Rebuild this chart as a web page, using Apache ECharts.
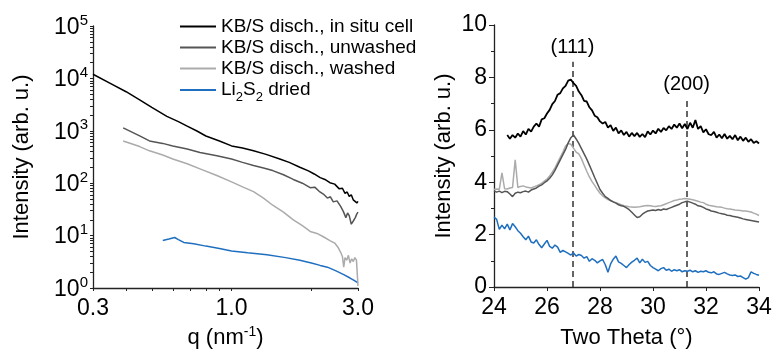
<!DOCTYPE html>
<html>
<head>
<meta charset="utf-8">
<script src="https://cdn.jsdelivr.net/npm/echarts@6/dist/echarts.min.js"></script>
<style>
  html, body { margin: 0; padding: 0; background: #fff; }
  #chart { width: 775px; height: 354px; }
</style>
</head>
<body>
<div id="chart"></div>
<script>
// ---- SAXS (left panel) ----
const seriesNames = ["KB/S disch., in situ cell", "KB/S disch., unwashed", "KB/S disch., washed", "Li2S2 dried"];

const qInSitu = [0.30, 0.35, 0.40, 0.45, 0.50, 0.57, 0.63, 0.68, 0.74, 0.80, 0.90, 1.00, 1.10, 1.21, 1.35, 1.52, 1.65, 1.81, 1.95, 2.05, 2.16, 2.25, 2.35, 2.45, 2.55, 2.62, 2.68, 2.73, 2.78, 2.83, 2.88, 2.93, 2.97, 3.00];
const iInSitu = [12000, 7950, 5570, 3900, 2800, 1890, 1500, 1225, 990, 795, 640, 515, 470, 415, 355, 290, 250, 202, 172, 150, 128, 118, 102, 96, 78, 80, 64, 68, 56, 60, 48, 52, 42, 45];

const qUnwashed = [0.39, 0.45, 0.49, 0.55, 0.60, 0.68, 0.76, 0.88, 1.00, 1.10, 1.21, 1.32, 1.43, 1.57, 1.71, 1.85, 1.98, 2.06, 2.14, 2.22, 2.30, 2.36, 2.42, 2.50, 2.58, 2.64, 2.70, 2.74, 2.78, 2.83, 2.88, 2.93, 2.97, 3.00];
const iUnwashed = [1140, 800, 640, 575, 515, 450, 387, 335, 290, 250, 217, 195, 174, 145, 118, 100, 82, 84, 70, 62, 52, 55, 44, 46, 36, 29, 22, 27, 24, 16.5, 19, 22, 26, 28];

const qWashed = [0.39, 0.45, 0.49, 0.55, 0.60, 0.68, 0.76, 0.88, 1.00, 1.10, 1.21, 1.32, 1.43, 1.57, 1.71, 1.85, 1.98, 2.10, 2.22, 2.35, 2.45, 2.52, 2.58, 2.62, 2.65, 2.68, 2.72, 2.76, 2.80, 2.84, 2.88, 2.92, 2.96, 2.99, 3.00];
const iWashed = [640, 500, 415, 345, 290, 235, 188, 140, 106, 85, 69, 52, 38, 28, 20, 15.5, 12, 11, 9.5, 8, 7.2, 6.0, 4.8, 4.0, 2.5, 3.8, 3.4, 4.2, 3.0, 3.6, 3.2, 3.8, 3.4, 3.6, 1.1];

const qLi2S2 = [0.55, 0.58, 0.61, 0.63, 0.66, 0.72, 0.80, 0.90, 1.00, 1.15, 1.36, 1.60, 1.81, 2.00, 2.16, 2.30, 2.49, 2.65, 2.80, 2.90, 3.00];
const iLi2S2 = [8.1, 8.6, 9.2, 8.4, 7.4, 7.0, 6.3, 5.7, 5.1, 4.7, 4.3, 3.8, 3.4, 3.0, 2.7, 2.5, 2.1, 1.8, 1.55, 1.4, 1.25];

const qTickValues = [0.3, 0.4, 0.5, 0.6, 0.7, 0.8, 0.9, 1, 2, 3];
const qLabelValues = [0.3, 1, 3];
const intensityDecades = [1, 10, 100, 1000, 10000, 100000];

// ---- XRD (right panel) ----
const twoTheta = [24.0, 24.1, 24.2, 24.3, 24.4, 24.5, 24.6, 24.7, 24.8, 24.9,
  25.0, 25.1, 25.2, 25.3, 25.4, 25.5, 25.6, 25.7, 25.8, 25.9,
  26.0, 26.1, 26.2, 26.3, 26.4, 26.5, 26.6, 26.7, 26.8, 26.9,
  27.0, 27.1, 27.2, 27.3, 27.4, 27.5, 27.6, 27.7, 27.8, 27.9,
  28.0, 28.1, 28.2, 28.3, 28.4, 28.5, 28.6, 28.7, 28.8, 28.9,
  29.0, 29.1, 29.2, 29.3, 29.4, 29.5, 29.6, 29.7, 29.8, 29.9,
  30.0, 30.1, 30.2, 30.3, 30.4, 30.5, 30.6, 30.7, 30.8, 30.9,
  31.0, 31.1, 31.2, 31.3, 31.4, 31.5, 31.6, 31.7, 31.8, 31.9,
  32.0, 32.1, 32.2, 32.3, 32.4, 32.5, 32.6, 32.7, 32.8, 32.9,
  33.0, 33.1, 33.2, 33.3, 33.4, 33.5, 33.6, 33.7, 33.8, 33.9, 34.0];

const xrdInSitu = [null, null, null, null, null, 5.80, 5.66, 5.80, 5.70, 5.86,
  5.74, 5.95, 5.82, 6.04, 5.93, 6.12, 6.24, 6.12, 6.40, 6.44,
  6.62, 6.76, 6.98, 7.10, 7.34, 7.40, 7.58, 7.68, 7.88, 7.92,
  7.78, 7.68, 7.46, 7.32, 7.10, 7.08, 6.86, 6.74, 6.54, 6.48,
  6.32, 6.24, 6.30, 6.08, 6.18, 5.96, 6.08, 5.86, 5.98, 5.80,
  5.92, 5.74, 5.88, 5.76, 5.88, 5.73, 5.84, 5.72, 5.94, 5.82,
  5.97, 5.86, 6.04, 5.92, 6.07, 5.98, 6.14, 6.03, 6.20, 6.08,
  6.24, 6.06, 6.22, 6.03, 6.27, 6.08, 6.37, 6.03, 6.14, 5.90,
  6.02, 5.83, 5.80, 5.92, 5.70, 5.82, 5.68, 5.84, 5.66, 5.77,
  5.64, 5.80, 5.60, 5.74, 5.58, 5.70, 5.54, 5.64, 5.50, 5.56, 5.48];

const xrdUnwashed = [3.67, 3.62, 3.66, 3.60, 3.65, 3.64, 3.55, 3.45, 3.58, 3.62,
  3.60, 3.64, 3.66, 3.62, 3.70, 3.74, 3.78, 3.85, 3.90, 3.98,
  4.05, 4.15, 4.28, 4.45, 4.65, 4.85, 5.05, 5.25, 5.50, 5.70,
  5.80, 5.65, 5.48, 5.28, 5.08, 4.88, 4.65, 4.42, 4.18, 3.95,
  3.72, 3.58, 3.45, 3.38, 3.30, 3.25, 3.20, 3.14, 3.10, 3.08,
  3.02, 2.95, 2.85, 2.75, 2.65, 2.68, 2.78, 2.85, 2.90, 2.92,
  2.94, 2.92, 2.96, 2.93, 2.98, 2.96, 3.00, 3.04, 3.08, 3.12,
  3.16, 3.22, 3.25, 3.27, 3.24, 3.20, 3.16, 3.10, 3.08, 3.04,
  2.98, 2.95, 2.90, 2.88, 2.85, 2.82, 2.80, 2.78, 2.74, 2.73,
  2.70, 2.68, 2.66, 2.63, 2.60, 2.58, 2.56, 2.54, 2.52, 2.50, 2.48];

const xrdWashed = [3.72, 3.74, 3.73, 4.36, 3.75, 3.74, 3.78, 3.80, 4.85, 3.80,
  3.84, 3.86, 3.82, 3.80, 3.78, 3.82, 3.86, 3.90, 3.96, 4.04,
  4.12, 4.24, 4.38, 4.55, 4.75, 4.95, 5.15, 5.38, 5.48, 5.45,
  5.30, 5.15, 5.08, 4.90, 4.65, 4.42, 4.20, 4.02, 3.88, 3.72,
  3.58, 3.48, 3.40, 3.34, 3.30, 3.25, 3.22, 3.18, 3.14, 3.10,
  3.08, 3.06, 3.05, 3.04, 3.05, 3.06, 3.08, 3.10, 3.11, 3.10,
  3.08, 3.07, 3.09, 3.10, 3.14, 3.18, 3.22, 3.26, 3.30, 3.32,
  3.35, 3.36, 3.38, 3.37, 3.35, 3.33, 3.30, 3.27, 3.24, 3.22,
  3.16, 3.12, 3.10, 3.08, 3.06, 3.05, 3.04, 3.01, 2.99, 2.98,
  2.96, 2.94, 2.93, 2.92, 2.90, 2.90, 2.88, 2.86, 2.82, 2.78, 2.73];

const xrdLi2S2 = [2.67, 2.58, 2.20, 2.36, 2.22, 2.40, 2.18, 2.42, 2.30, 2.15,
  2.05, 1.92, 1.80, 1.94, 1.72, 1.68, 1.80, 1.62, 1.50, 1.64,
  1.78, 1.55, 1.48, 1.60, 1.52, 1.32, 1.40, 1.34, 1.28, 1.22,
  1.30, 1.18, 1.24, 1.20, 1.10, 1.16, 0.98, 1.08, 1.02, 0.92,
  1.00, 1.05, 0.85, 0.56, 0.88, 1.06, 1.18, 0.96, 0.90, 0.82,
  0.74, 0.86, 0.95, 1.02, 1.10, 0.92, 1.06, 0.94, 0.98, 0.82,
  0.74, 0.68, 0.62, 0.70, 0.74, 0.64, 0.68, 0.60, 0.66, 0.62,
  0.66, 0.58, 0.62, 0.60, 0.64, 0.58, 0.62, 0.56, 0.60, 0.58,
  0.62, 0.56, 0.54, 0.58, 0.50, 0.48, 0.52, 0.56, 0.50, 0.46,
  0.44, 0.46, 0.40, 0.42, 0.36, 0.30, 0.36, 0.58, 0.52, 0.48, 0.45];

const peakPositions = [26.96, 31.27];
const peakTops = [8.6, 7.2];
const peakLabels = ["(111)", "(200)"];

const colors = ["#000000", "#555555", "#ababab", "#1f6fc0"];
const lineWidths = [1.8, 1.5, 1.5, 1.5];
const font = "Liberation Sans, Arial, sans-serif";
const axisColor = "#222";

const zip = (xs, ys) => xs.map((x, i) => [x, ys[i]]);

const chart = echarts.init(document.getElementById("chart"));

// minor ticks of the log intensity axis (1..9 per decade)
const intensityTicks = [];
intensityDecades.forEach((d, k) => {
  if (k === intensityDecades.length - 1) { intensityTicks.push(d); return; }
  [1, 2, 3, 4, 5, 6, 7, 8, 9].forEach((m) => intensityTicks.push(d * m));
});

const supLabel = {
  b: { fontSize: 23, lineHeight: 26, verticalAlign: "bottom", fontFamily: font, color: "#000" },
  e: { fontSize: 15, lineHeight: 15, verticalAlign: "top", fontFamily: font, color: "#000" },
};

const leftLines = [
  [qInSitu, iInSitu],
  [qUnwashed, iUnwashed],
  [qWashed, iWashed],
  [qLi2S2, iLi2S2],
];
const rightLines = [xrdInSitu, xrdUnwashed, xrdWashed, xrdLi2S2];

const series = [];
leftLines.forEach(([q, v], i) => {
  series.push({
    name: seriesNames[i],
    type: "line",
    xAxisIndex: 0,
    yAxisIndex: 0,
    data: zip(q, v),
    symbol: "none",
    lineStyle: { width: 1.5, color: colors[i] },
    itemStyle: { color: colors[i] },
    z: 10 - i,
  });
});
rightLines.forEach((v, i) => {
  const s = {
    name: seriesNames[i],
    type: "line",
    xAxisIndex: 1,
    yAxisIndex: 1,
    data: zip(twoTheta, v),
    symbol: "none",
    connectNulls: false,
    lineStyle: { width: lineWidths[i], color: colors[i] },
    itemStyle: { color: colors[i] },
    z: 10 - i,
  };
  if (i === 0) {
    s.markLine = {
      silent: true,
      symbol: "none",
      lineStyle: { color: "#333", type: [6, 4], width: 1.5 },
      label: {
        show: true,
        position: "end",
        distance: 4,
        fontSize: 20,
        fontFamily: font,
        color: "#000",
        formatter: (p) => p.data.lbl,
      },
      data: peakPositions.map((x, k) => [
        { coord: [x, 0], lbl: peakLabels[k] },
        { coord: [x, peakTops[k]], lbl: peakLabels[k] },
      ]),
    };
  }
  series.push(s);
});

const option = {
  animation: false,
  backgroundColor: "#fff",
  legend: {
    data: seriesNames,
    orient: "vertical",
    left: 175,
    top: 12,
    itemWidth: 36,
    itemHeight: 2,
    itemGap: 2,
    icon: "rect",
    textStyle: {
      fontSize: 19,
      fontFamily: font,
      color: "#000",
      rich: {
        n: { fontSize: 19, fontFamily: font, lineHeight: 18, verticalAlign: "bottom" },
        s: { fontSize: 13, fontFamily: font, lineHeight: 12, verticalAlign: "bottom", padding: [0, 0, -5, 0] },
      },
    },
    formatter: (name) => name === "Li2S2 dried"
      ? "{n|Li}{s|2}{n|S}{s|2}{n| dried}"
      : name,
  },
  grid: [
    { left: 93, top: 26, width: 265, height: 265 },
    { left: 494, top: 25, width: 265, height: 266 },
  ],
  xAxis: [
    {
      type: "log",
      gridIndex: 0,
      min: 0.3,
      max: 3,
      logBase: 10,
      name: "{n|q (nm}{e|-1}{n|)}",
      nameLocation: "middle",
      nameGap: 37,
      nameTextStyle: {
        rich: {
          n: { fontSize: 22, lineHeight: 24, fontFamily: font, color: "#000", verticalAlign: "bottom" },
          e: { fontSize: 14, lineHeight: 14, fontFamily: font, color: "#000", verticalAlign: "top" },
        },
      },
      axisLine: { show: true, lineStyle: { color: axisColor, width: 1.3 } },
      axisTick: { show: true, inside: false, length: 3, customValues: qTickValues, lineStyle: { color: axisColor } },
      axisLabel: {
        customValues: qLabelValues,
        margin: 9,
        fontSize: 23,
        fontFamily: font,
        color: "#000",
        formatter: (v) => v.toFixed(1),
      },
      splitLine: { show: false },
    },
    {
      type: "value",
      gridIndex: 1,
      min: 24,
      max: 34,
      interval: 2,
      name: "Two Theta (°)",
      nameLocation: "middle",
      nameGap: 40,
      nameTextStyle: { fontSize: 22, fontFamily: font, color: "#000" },
      axisLine: { show: true, lineStyle: { color: axisColor, width: 1.3 } },
      axisTick: { show: true, length: 4, lineStyle: { color: axisColor } },
      axisLabel: { margin: 9, fontSize: 23, fontFamily: font, color: "#000" },
      splitLine: { show: false },
    },
  ],
  yAxis: [
    {
      type: "log",
      gridIndex: 0,
      min: 1,
      max: 100000,
      logBase: 10,
      name: "Intensity (arb. u.)",
      nameLocation: "middle",
      nameGap: 60,
      nameTextStyle: { fontSize: 22, fontFamily: font, color: "#000" },
      axisLine: { show: true, lineStyle: { color: axisColor, width: 1.3 } },
      axisTick: { show: true, length: 3, customValues: intensityTicks, lineStyle: { color: axisColor } },
      axisLabel: {
        customValues: intensityDecades,
        margin: 5,
        formatter: (v) => "{b|10}{e|" + Math.round(Math.log10(v)) + "}",
        rich: supLabel,
      },
      splitLine: { show: false },
    },
    {
      type: "value",
      gridIndex: 1,
      min: 0,
      max: 10,
      interval: 2,
      name: "Intensity (arb. u.)",
      nameLocation: "middle",
      nameGap: 39,
      nameTextStyle: { fontSize: 22, fontFamily: font, color: "#000" },
      axisLine: { show: true, lineStyle: { color: axisColor, width: 1.3 } },
      axisTick: { show: true, length: 5, lineStyle: { color: axisColor } },
      minorTick: { show: true, splitNumber: 2, length: 3, lineStyle: { color: axisColor } },
      axisLabel: { margin: 7, fontSize: 23, fontFamily: font, color: "#000" },
      splitLine: { show: false },
    },
  ],
  series: series,
};

chart.setOption(option);
</script>
</body>
</html>
